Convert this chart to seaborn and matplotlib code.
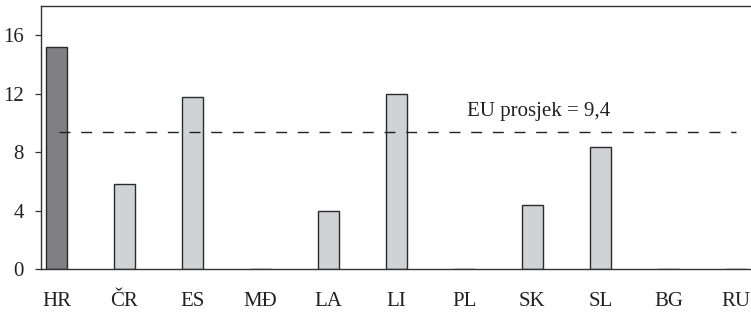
import matplotlib
matplotlib.use("Agg")
import matplotlib.pyplot as plt
import seaborn as sns
import pandas as pd

categories = ["HR", "ČR", "ES", "MĐ", "LA", "LI", "PL", "SK", "SL", "BG", "RU"]
values = [15.2, 5.8, 11.8, 0, 4.0, 12.0, 0, 4.4, 8.35, 0, 0]
colors = ["#808083"] + ["#d1d2d4"] * 10
eu_avg = 9.4
eu_label = "EU prosjek = 9,4"
yticks = [0, 4, 8, 12, 16]

sns.set_theme(style="white")
plt.rcParams["font.family"] = ["Liberation Serif", "DejaVu Serif"]

df = pd.DataFrame({"cat": categories, "val": values})

fig = plt.figure(figsize=(7.51, 3.14), dpi=100)
ax = fig.add_axes([41 / 751, 45 / 314, 711 / 751, 263 / 314])

sns.barplot(data=df, x="cat", y="val", hue="cat", palette=colors, legend=False,
            width=0.32, edgecolor="#2a2a2a", linewidth=1.0, ax=ax, saturation=1)

ax.plot([0.03, 10.0], [eu_avg, eu_avg], color="#222222", linewidth=1.0,
        linestyle=(0, (7.9, 7.7)))
ax.text(6.04, 10.5, eu_label, fontsize=15, color="#222222", va="baseline", ha="left")

ax.set_xlim(-0.228, 10.23)
ax.set_ylim(0, 18)
ax.set_yticks(yticks)
ax.set_xlabel("")
ax.set_ylabel("")
ax.tick_params(axis="y", length=4.5, width=0.9, pad=8, labelsize=15, color="#333333",
               left=True, labelcolor="#222222")
ax.tick_params(axis="x", length=0, pad=16.5, labelsize=15, labelcolor="#222222")
for s in ["left", "bottom", "top"]:
    ax.spines[s].set_visible(True)
    ax.spines[s].set_color("#333333")
    ax.spines[s].set_linewidth(1.0)
ax.spines["right"].set_visible(False)

fig.savefig("out.png", dpi=100)
